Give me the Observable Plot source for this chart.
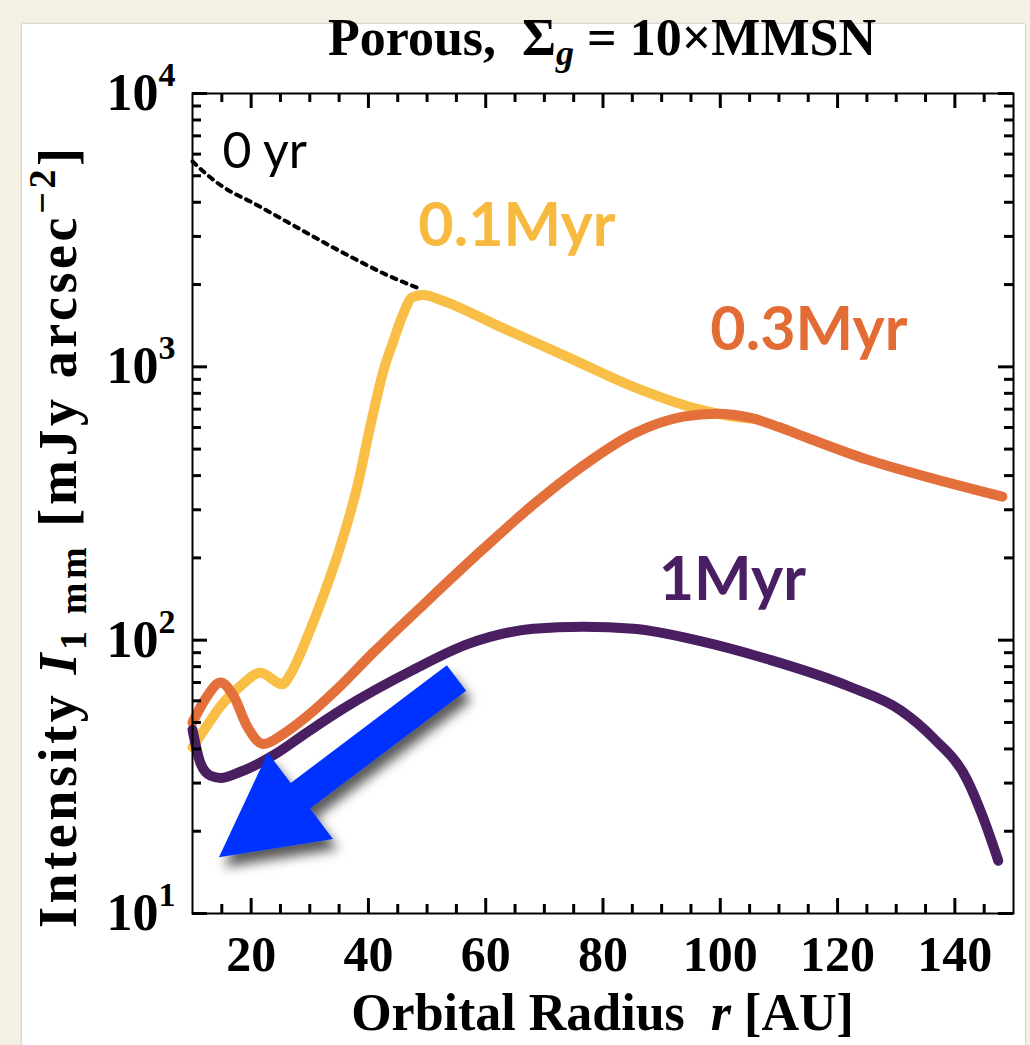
<!DOCTYPE html>
<html>
<head>
<meta charset="utf-8">
<script src="https://cdn.jsdelivr.net/npm/d3@7"></script>
<script src="https://cdn.jsdelivr.net/npm/@observablehq/plot@0.6"></script>
<style>
  html, body { margin: 0; padding: 0; background: #f4f0e4; }
  #page { position: relative; width: 1030px; height: 1045px; overflow: hidden; }
  #panel { position: absolute; left: 22px; top: 24px; width: 1003px; height: 1040px; background: #fff;
           box-shadow: 0 0 2px rgba(0,0,0,0.35); }
  #chart { position: absolute; left: 0; top: 0; }
</style>
</head>
<body>
<div id="page"><div id="panel"></div><div id="chart"></div></div>
<script>
// Orbital radius r [AU] and 1 mm intensity [mJy arcsec^-2] at each epoch
const r0yr = [10, 12.2, 15.3, 20.4, 26.2, 32.3, 37.4, 43.2, 48.5];
const I0yr = [5640, 5105, 4540, 3970, 3385, 2860, 2500, 2166, 1940];

const r01Myr = [10, 12.2, 14.8, 18.2, 21.6, 25.3, 26.7, 29.6, 32.3, 35.2, 38.1, 40.3, 42.6, 44.3, 46.0, 47.5, 49.4, 52.3, 62.5, 73.9, 85.2, 96.6, 102.2, 106];
const I01Myr = [40.6, 47.7, 57.4, 68, 76, 69, 75, 103, 145, 220, 365, 604, 975, 1250, 1575, 1800, 1832, 1757, 1400, 1088, 845, 697, 658, 645];

const r03Myr = [10, 12.2, 14.8, 17.0, 19.4, 22.1, 25.5, 29.6, 34.7, 40.9, 49.4, 59.6, 68.1, 76.7, 85.2, 93.7, 99.5, 105, 110, 115, 125, 136.3, 148.1];
const I03Myr = [50, 61, 70, 62.5, 48, 41.7, 45.4, 52.8, 66.3, 90.4, 135, 216, 313, 436, 569, 657, 674, 652, 602, 548, 458, 390, 335];

const r1Myr = [10, 11.4, 13.1, 14.8, 18.2, 24.2, 29.6, 35.6, 47.7, 56.9, 68.1, 76.7, 85.2, 96.6, 108.0, 122.2, 130.7, 136.3, 142.1, 144.9, 147.4];
const I1Myr = [47, 35.3, 31.9, 31.3, 33, 38.4, 46.1, 56, 78, 96.7, 110, 112, 110, 99.2, 85.3, 67.4, 55.5, 43.9, 30.8, 22.2, 15.6];

// Axis ticks
const xTicks = [20, 40, 60, 80, 100, 120, 140];
const xMinorTicks = d3.range(15, 150, 5).filter(v => v % 20 !== 0);
const yTicks = [10, 100, 1000, 10000];
const yMinorTicks = [10, 100, 1000].flatMap(b => d3.range(2, 10).map(k => k * b));

// Epoch labels, anchored in data space (left edge, vertical middle)
const labelText = ["0 yr", "0.1Myr", "0.3Myr", "1Myr"];
const labelR = [15.1, 48.5, 98.3, 89.5];
const labelI = [6115, 3258, 1353, 165];

// Arrow annotation (tail and head, in data space)
const arrowFrom = [55.1, 72.4];
const arrowTo = [14.6, 16.0];

const colors = { y0: "#000000", y01: "#F8BE45", y03: "#E3703A", y1: "#4A1F62" };
const labelColors = ["#000000", "#F7BA3E", "#E36C35", "#4A1E63"];

const toRows = (rs, Is) => rs.map((r, i) => ({ r, I: Is[i] }));
const rows0 = toRows(r0yr, I0yr);
const rows01 = toRows(r01Myr, I01Myr);
const rows03 = toRows(r03Myr, I03Myr);
const rows1 = toRows(r1Myr, I1Myr);
const labels = labelText.map((t, i) => ({ text: t, r: labelR[i], I: labelI[i], color: labelColors[i] }));

const W = 1030, H = 1045;
const M = { top: 93, right: 17, bottom: 132, left: 192 };
const innerW = W - M.left - M.right, innerH = H - M.top - M.bottom;
const serif = "'Liberation Serif', 'Times New Roman', serif";
const sans = "Lato, 'Open Sans', sans-serif";
const MAJ = 15, MIN = 9;
const tickOpts = { stroke: "black", strokeWidth: 3 };
const curveOpts = { x: "r", y: "I", strokeWidth: 10, curve: "monotone-x", strokeLinejoin: "round" };

const plot = Plot.plot({
  width: W, height: H,
  marginTop: M.top, marginRight: M.right, marginBottom: M.bottom, marginLeft: M.left,
  style: { background: "transparent", fontFamily: serif, fontWeight: "bold", fontSize: "50px", color: "black" },
  x: { domain: [10, 150] },
  y: { type: "log", domain: [10, 10000] },
  marks: [
    Plot.line(rows0, { x: "r", y: "I", stroke: colors.y0, strokeWidth: 4, strokeDasharray: "5 6", curve: "monotone-x" }),
    Plot.line(rows01, { ...curveOpts, stroke: colors.y01 }),
    Plot.line(rows03, { ...curveOpts, stroke: colors.y03 }),
    Plot.line(rows1, { ...curveOpts, stroke: colors.y1 }),
    Plot.frame({ stroke: "black", strokeWidth: 2 }),
    // inward ticks on all four sides of the frame
    Plot.ruleX(xTicks, { x: d => d, insetTop: innerH - MAJ, ...tickOpts }),
    Plot.ruleX(xTicks, { x: d => d, insetBottom: innerH - MAJ, ...tickOpts }),
    Plot.ruleX(xMinorTicks, { x: d => d, insetTop: innerH - MIN, ...tickOpts }),
    Plot.ruleX(xMinorTicks, { x: d => d, insetBottom: innerH - MIN, ...tickOpts }),
    Plot.ruleY(yTicks, { y: d => d, insetRight: innerW - MAJ, ...tickOpts }),
    Plot.ruleY(yTicks, { y: d => d, insetLeft: innerW - MAJ, ...tickOpts }),
    Plot.ruleY(yMinorTicks, { y: d => d, insetRight: innerW - MIN, ...tickOpts }),
    Plot.ruleY(yMinorTicks, { y: d => d, insetLeft: innerW - MIN, ...tickOpts }),
    Plot.axisX(xTicks, { tickSize: 0, tickPadding: 22, label: null, fontSize: 50 }),
    Plot.axisY(yTicks, { tickSize: 0, tickPadding: 17, label: null, fontSize: 52, tickFormat: d => `10^${Math.round(Math.log10(d))}` }),
    Plot.text(labels.slice(0, 1), { x: "r", y: "I", text: "text", fill: "color", textAnchor: "start", fontFamily: sans, fontSize: 50, fontWeight: "normal" }),
    Plot.text(labels.slice(1, 3), { x: "r", y: "I", text: "text", fill: "color", textAnchor: "start", fontFamily: sans, fontSize: 61, fontWeight: "bold", letterSpacing: 2 }),
    Plot.text(labels.slice(3), { x: "r", y: "I", text: "text", fill: "color", textAnchor: "start", fontFamily: sans, fontSize: 61, fontWeight: "bold" })
  ]
});

document.getElementById("chart").appendChild(plot);
const svg = d3.select(plot);
const sx = plot.scale("x"), sy = plot.scale("y");

// powers of ten with raised exponents
svg.selectAll('g[aria-label="y-axis tick label"] text').each(function () {
  const t = d3.select(this);
  const [base, exp] = t.text().split("^");
  t.text(null);
  t.append("tspan").text(base);
  t.append("tspan").attr("font-size", "34px").attr("dy", "-24px").text(exp);
});

// title
const title = svg.append("text")
  .attr("x", 602).attr("y", 55).attr("text-anchor", "middle")
  .attr("font-family", serif).attr("font-weight", "bold").attr("font-size", 52).attr("fill", "black");
title.append("tspan").text("Porous,\u00a0\u00a0Σ");
title.append("tspan").attr("font-style", "italic").attr("font-size", 36).attr("dy", 10).text("g");
title.append("tspan").attr("dy", -10).text(" = 10×MMSN");

// x label
const xl = svg.append("text")
  .attr("x", (M.left + W - M.right) / 2).attr("y", 1030).attr("text-anchor", "middle")
  .attr("font-family", serif).attr("font-weight", "bold").attr("font-size", 52).attr("fill", "black");
xl.append("tspan").text("Orbital Radius\u00a0\u00a0");
xl.append("tspan").attr("font-style", "italic").text("r");
xl.append("tspan").text(" [AU]");

// y label
const yl = svg.append("text")
  .attr("transform", `translate(76, 538) rotate(-90)`).attr("text-anchor", "middle")
  .attr("textLength", 780).attr("lengthAdjust", "spacing")
  .attr("font-family", serif).attr("font-weight", "bold").attr("font-size", 54).attr("fill", "black");
yl.append("tspan").text("Intensity ");
yl.append("tspan").attr("font-style", "italic").text("I");
yl.append("tspan").attr("font-size", 38).attr("dy", 10).text("1\u00a0mm");
yl.append("tspan").attr("dy", -10).text(" [mJy arcsec");
yl.append("tspan").attr("font-size", 38).attr("dy", -21).text("−2");
yl.append("tspan").attr("dy", 21).text("]");

// arrow annotation with soft drop shadow
const T = [sx.apply(arrowFrom[0]), sy.apply(arrowFrom[1])];
const P = [sx.apply(arrowTo[0]), sy.apply(arrowTo[1])];
const len = Math.hypot(P[0] - T[0], P[1] - T[1]);
const u = [(P[0] - T[0]) / len, (P[1] - T[1]) / len];
const n = [-u[1], u[0]];
const shaftW = 16, headW = 54, headL = 102;
const B = [P[0] - u[0] * headL, P[1] - u[1] * headL];
const pt = (p, k) => [p[0] + n[0] * k, p[1] + n[1] * k];
const poly = [pt(T, shaftW), pt(B, shaftW), pt(B, headW), P, pt(B, -headW), pt(B, -shaftW), pt(T, -shaftW)];
const defs = svg.append("defs");
defs.append("filter").attr("id", "arrow-shadow").attr("x", "-30%").attr("y", "-30%").attr("width", "160%").attr("height", "160%")
  .append("feDropShadow").attr("dx", 5).attr("dy", 10).attr("stdDeviation", 6)
  .attr("flood-color", "#000").attr("flood-opacity", 0.65);
svg.append("path")
  .attr("d", "M" + poly.map(p => p.join(",")).join("L") + "Z")
  .attr("fill", "#0433FF").attr("filter", "url(#arrow-shadow)");
</script>
</body>
</html>
